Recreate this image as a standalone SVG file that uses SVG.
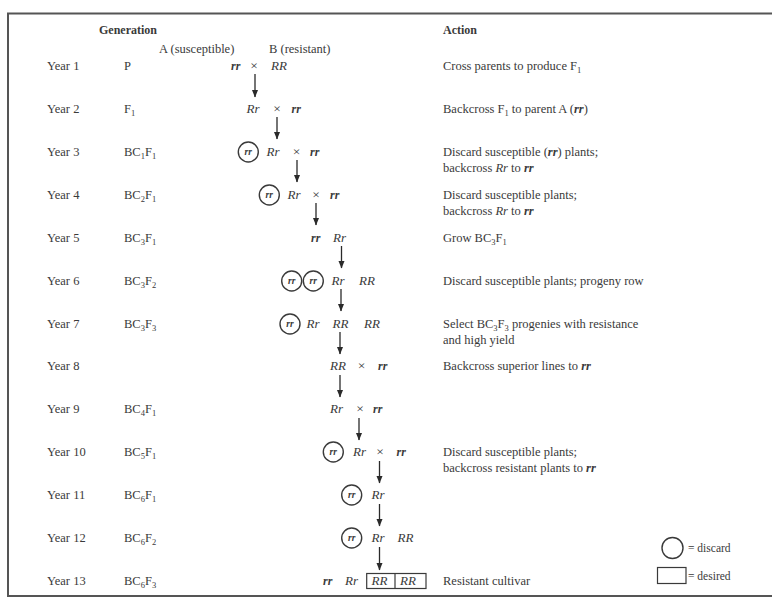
<svg xmlns="http://www.w3.org/2000/svg" width="772" height="599" viewBox="0 0 772 599">
<style>
text{font-family:"Liberation Serif","Times New Roman",serif;fill:#3a3a3a;font-size:12.5px}
.hd{font-weight:bold;font-size:12px}
.g{font-style:italic;font-size:13px}
.gb{font-style:italic;font-weight:bold;font-size:12px}
.x{font-size:13.5px;text-anchor:middle}
.c{font-style:italic;font-weight:bold;font-size:9.5px;text-anchor:middle}
.sub{font-size:8.5px}
.lg{font-size:11.5px}
.disc{fill:none;stroke:#3a3a3a;stroke-width:1.4}
.ar{stroke:#2a2a2a;stroke-width:1.3;fill:none;marker-end:url(#ah)}
.box{fill:none;stroke:#3a3a3a;stroke-width:1.2}
</style>
<defs>
<marker id="ah" markerWidth="8" markerHeight="8" viewBox="0 0 8 8" refX="7.5" refY="4" orient="auto" markerUnits="userSpaceOnUse">
<path d="M0,0.8 L8,4 L0,7.2 Z" fill="#2a2a2a"/>
</marker>
</defs>
<rect x="0" y="0" width="772" height="599" fill="#fff"/>
<rect x="8" y="13.5" width="770" height="582.5" fill="none" stroke="#555" stroke-width="2"/>

<g id="headers">
<text class="hd" x="99" y="34">Generation</text>
<text x="159" y="53">A (susceptible)</text>
<text x="269" y="53">B (resistant)</text>
<text class="hd" x="443" y="34">Action</text>
</g>

<g id="years">
<text x="47" y="70">Year 1</text>
<text x="47" y="113">Year 2</text>
<text x="47" y="156">Year 3</text>
<text x="47" y="199">Year 4</text>
<text x="47" y="242">Year 5</text>
<text x="47" y="285">Year 6</text>
<text x="47" y="328">Year 7</text>
<text x="47" y="370">Year 8</text>
<text x="47" y="413">Year 9</text>
<text x="47" y="456">Year 10</text>
<text x="47" y="499">Year 11</text>
<text x="47" y="542">Year 12</text>
<text x="47" y="585">Year 13</text>
</g>

<g id="generations">
<text x="124" y="70">P</text>
<text x="124" y="113">F<tspan class="sub" dy="2.5">1</tspan></text>
<text x="124" y="156">BC<tspan class="sub" dy="2.5">1</tspan><tspan dy="-2.5">F</tspan><tspan class="sub" dy="2.5">1</tspan></text>
<text x="124" y="199">BC<tspan class="sub" dy="2.5">2</tspan><tspan dy="-2.5">F</tspan><tspan class="sub" dy="2.5">1</tspan></text>
<text x="124" y="242">BC<tspan class="sub" dy="2.5">3</tspan><tspan dy="-2.5">F</tspan><tspan class="sub" dy="2.5">1</tspan></text>
<text x="124" y="285">BC<tspan class="sub" dy="2.5">3</tspan><tspan dy="-2.5">F</tspan><tspan class="sub" dy="2.5">2</tspan></text>
<text x="124" y="328">BC<tspan class="sub" dy="2.5">3</tspan><tspan dy="-2.5">F</tspan><tspan class="sub" dy="2.5">3</tspan></text>
<text x="124" y="413">BC<tspan class="sub" dy="2.5">4</tspan><tspan dy="-2.5">F</tspan><tspan class="sub" dy="2.5">1</tspan></text>
<text x="124" y="456">BC<tspan class="sub" dy="2.5">5</tspan><tspan dy="-2.5">F</tspan><tspan class="sub" dy="2.5">1</tspan></text>
<text x="124" y="499">BC<tspan class="sub" dy="2.5">6</tspan><tspan dy="-2.5">F</tspan><tspan class="sub" dy="2.5">1</tspan></text>
<text x="124" y="542">BC<tspan class="sub" dy="2.5">6</tspan><tspan dy="-2.5">F</tspan><tspan class="sub" dy="2.5">2</tspan></text>
<text x="124" y="585">BC<tspan class="sub" dy="2.5">6</tspan><tspan dy="-2.5">F</tspan><tspan class="sub" dy="2.5">3</tspan></text>
</g>

<g id="row1">
<text class="gb" x="231" y="70">rr</text><text class="x" x="254" y="70">×</text><text class="g" x="271" y="70">RR</text>
</g>
<g id="row2">
<text class="g" x="246.5" y="113">Rr</text><text class="x" x="277" y="113">×</text><text class="gb" x="291.5" y="113">rr</text>
</g>
<g id="row3">
<circle class="disc" cx="248.3" cy="152" r="10"/><text class="c" x="248.3" y="155">rr</text>
<text class="g" x="266.5" y="156">Rr</text><text class="x" x="296.5" y="156">×</text><text class="gb" x="310" y="156">rr</text>
</g>
<g id="row4">
<circle class="disc" cx="269.3" cy="195" r="10"/><text class="c" x="269.3" y="198">rr</text>
<text class="g" x="287.5" y="199">Rr</text><text class="x" x="316" y="199">×</text><text class="gb" x="330" y="199">rr</text>
</g>
<g id="row5">
<text class="gb" x="311" y="242">rr</text><text class="g" x="333" y="242">Rr</text>
</g>
<g id="row6">
<circle class="disc" cx="291.7" cy="281" r="10"/><text class="c" x="291.7" y="284">rr</text>
<circle class="disc" cx="313.3" cy="281" r="10"/><text class="c" x="313.3" y="284">rr</text>
<text class="g" x="331.5" y="285">Rr</text><text class="g" x="359" y="285">RR</text>
</g>
<g id="row7">
<circle class="disc" cx="290" cy="324" r="10"/><text class="c" x="290" y="327">rr</text>
<text class="g" x="306.5" y="328">Rr</text><text class="g" x="332.5" y="328">RR</text><text class="g" x="364" y="328">RR</text>
</g>
<g id="row8">
<text class="g" x="330" y="370">RR</text><text class="x" x="361.5" y="370">×</text><text class="gb" x="378" y="370">rr</text>
</g>
<g id="row9">
<text class="g" x="330" y="413">Rr</text><text class="x" x="360" y="413">×</text><text class="gb" x="373" y="413">rr</text>
</g>
<g id="row10">
<circle class="disc" cx="333.3" cy="452" r="10"/><text class="c" x="333.3" y="455">rr</text>
<text class="g" x="353" y="456">Rr</text><text class="x" x="380" y="456">×</text><text class="gb" x="396.5" y="456">rr</text>
</g>
<g id="row11">
<circle class="disc" cx="351.7" cy="495" r="10"/><text class="c" x="351.7" y="498">rr</text>
<text class="g" x="371.5" y="499">Rr</text>
</g>
<g id="row12">
<circle class="disc" cx="351.7" cy="538" r="10"/><text class="c" x="351.7" y="541">rr</text>
<text class="g" x="371.5" y="542">Rr</text><text class="g" x="397.5" y="542">RR</text>
</g>
<g id="row13">
<text class="gb" x="323" y="585">rr</text><text class="g" x="345" y="585">Rr</text>
<rect class="box" x="366.7" y="573.5" width="59.3" height="15"/>
<line class="box" x1="395" y1="573.5" x2="395" y2="588.5"/>
<text class="g" x="371.5" y="585">RR</text><text class="g" x="400" y="585">RR</text>
</g>

<g id="connectors">
<line class="ar" x1="255" y1="74" x2="255" y2="97"/>
<line class="ar" x1="277" y1="117" x2="277" y2="139"/>
<line class="ar" x1="297" y1="160" x2="297" y2="182"/>
<line class="ar" x1="316" y1="203" x2="316" y2="225"/>
<line class="ar" x1="341.5" y1="246" x2="341.5" y2="268"/>
<line class="ar" x1="341" y1="289" x2="341" y2="311"/>
<line class="ar" x1="340" y1="332" x2="340" y2="354"/>
<line class="ar" x1="340" y1="375" x2="340" y2="397"/>
<line class="ar" x1="359" y1="418" x2="359" y2="440"/>
<line class="ar" x1="379.5" y1="461" x2="379.5" y2="483"/>
<line class="ar" x1="379.5" y1="504" x2="379.5" y2="526"/>
<line class="ar" x1="379.5" y1="547" x2="379.5" y2="570"/>
</g>

<g id="actions">
<text x="443" y="70">Cross parents to produce F<tspan class="sub" dy="2.5">1</tspan></text>
<text x="443" y="113">Backcross F<tspan class="sub" dy="2.5">1</tspan><tspan dy="-2.5"> to parent A (</tspan><tspan font-style="italic" font-weight="bold">rr</tspan>)</text>
<text x="443" y="156">Discard susceptible (<tspan font-style="italic" font-weight="bold">rr</tspan>) plants;</text>
<text x="443" y="171.5">backcross <tspan font-style="italic">Rr</tspan> to <tspan font-style="italic" font-weight="bold">rr</tspan></text>
<text x="443" y="199">Discard susceptible plants;</text>
<text x="443" y="214.5">backcross <tspan font-style="italic">Rr</tspan> to <tspan font-style="italic" font-weight="bold">rr</tspan></text>
<text x="443" y="242">Grow BC<tspan class="sub" dy="2.5">3</tspan><tspan dy="-2.5">F</tspan><tspan class="sub" dy="2.5">1</tspan></text>
<text x="443" y="285">Discard susceptible plants; progeny row</text>
<text x="443" y="328">Select BC<tspan class="sub" dy="2.5">3</tspan><tspan dy="-2.5">F</tspan><tspan class="sub" dy="2.5">3</tspan><tspan dy="-2.5"> progenies with resistance</tspan></text>
<text x="443" y="343.5">and high yield</text>
<text x="443" y="370">Backcross superior lines to <tspan font-style="italic" font-weight="bold">rr</tspan></text>
<text x="443" y="456">Discard susceptible plants;</text>
<text x="443" y="471.5">backcross resistant plants to <tspan font-style="italic" font-weight="bold">rr</tspan></text>
<text x="443" y="585">Resistant cultivar</text>
</g>

<g id="legend">
<circle class="disc" cx="672.5" cy="548" r="10.5"/>
<text class="lg" x="688" y="552">= discard</text>
<rect class="box" x="657.5" y="567.5" width="28.5" height="16"/>
<text class="lg" x="688" y="580">= desired</text>
</g>
</svg>
